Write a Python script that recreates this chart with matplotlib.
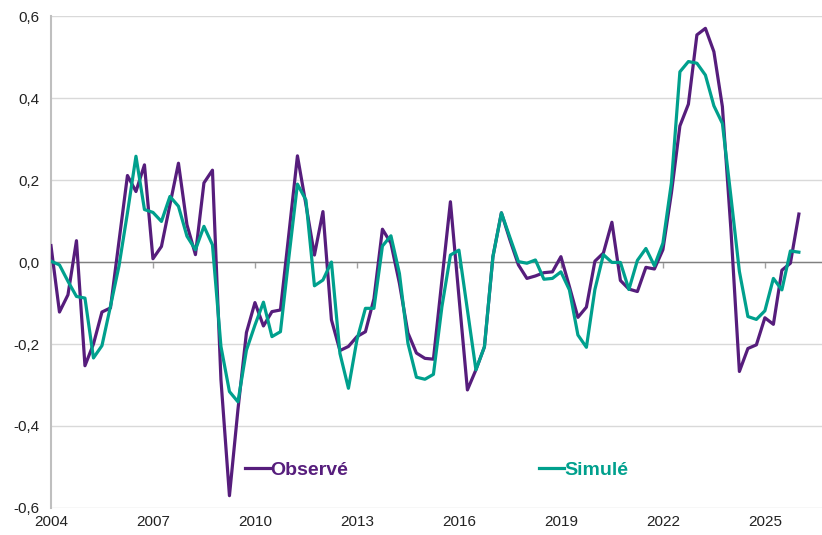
import matplotlib.pyplot as plt
from matplotlib.ticker import FuncFormatter
import numpy as np

plt.rcParams['font.family'] = ['Liberation Sans', 'DejaVu Sans']

# quarterly values from 2004 Q1 to 2026 Q1
observe = [0.040, -0.122, -0.080, 0.052, -0.253, -0.200, -0.122, -0.112,
           0.050, 0.211, 0.172, 0.237, 0.008, 0.038, 0.140, 0.241,
           0.091, 0.018, 0.193, 0.224, -0.287, -0.570, -0.360, -0.172,
           -0.099, -0.156, -0.121, -0.117, 0.070, 0.259, 0.140, 0.017,
           0.123, -0.141, -0.216, -0.206, -0.182, -0.170, -0.090, 0.080,
           0.046, -0.052, -0.173, -0.222, -0.235, -0.237, -0.044, 0.147,
           -0.084, -0.312, -0.263, -0.207, 0.013, 0.120, 0.054, -0.007,
           -0.040, -0.034, -0.026, -0.024, 0.013, -0.060, -0.135, -0.110,
           0.002, 0.022, 0.097, -0.045, -0.066, -0.072, -0.013, -0.017,
           0.030, 0.168, 0.332, 0.385, 0.554, 0.570, 0.513, 0.379,
           0.080, -0.267, -0.211, -0.202, -0.136, -0.152, -0.020, -0.003,
           0.117]
simule = [0.002, -0.007, -0.047, -0.084, -0.088, -0.234, -0.204, -0.108,
          -0.010, 0.120, 0.258, 0.128, 0.121, 0.099, 0.160, 0.136,
          0.063, 0.030, 0.087, 0.042, -0.206, -0.316, -0.341, -0.215,
          -0.154, -0.098, -0.182, -0.170, 0.013, 0.190, 0.151, -0.058,
          -0.044, 0.000, -0.223, -0.308, -0.190, -0.113, -0.113, 0.039,
          0.064, -0.028, -0.198, -0.281, -0.286, -0.274, -0.109, 0.017,
          0.029, -0.117, -0.263, -0.207, 0.013, 0.120, 0.060, 0.001,
          -0.003, 0.005, -0.042, -0.040, -0.024, -0.068, -0.178, -0.208,
          -0.067, 0.018, -0.001, -0.001, -0.067, 0.004, 0.033, -0.009,
          0.046, 0.193, 0.464, 0.489, 0.485, 0.456, 0.381, 0.338,
          0.160, -0.023, -0.133, -0.140, -0.119, -0.040, -0.068, 0.027,
          0.024]
year_ticks = [2004, 2007, 2010, 2013, 2016, 2019, 2022, 2025]
y_ticks = [-0.6, -0.4, -0.2, 0.0, 0.2, 0.4, 0.6]

purple = "#561D7C"
teal = "#00A08D"

dates = 2004 + np.arange(len(observe)) / 4.0

fig = plt.figure(figsize=(8.22, 5.35), dpi=100)
ax = fig.add_axes([0.062, 0.0505, 0.938, 0.9195])

ax.plot(dates, observe, color=purple, linewidth=2.3, label="Observé", zorder=3)
ax.plot(dates, simule, color=teal, linewidth=2.3, label="Simulé", zorder=3)

ax.set_xlim(2004, 2026.68)
ax.set_ylim(-0.6, 0.6)
ax.set_yticks(y_ticks)
ax.yaxis.set_major_formatter(FuncFormatter(lambda v, p: "{:.1f}".format(v).replace(".", ",")))
ax.tick_params(axis='y', length=0, pad=8, labelsize=11, labelcolor="#222222")
ax.yaxis.grid(True, color="#D9D9D9", linewidth=1.0)
ax.set_axisbelow(True)

for side in ["top", "right"]:
    ax.spines[side].set_visible(False)
ax.spines["left"].set_color("#BFBFBF")
ax.spines["left"].set_linewidth(1.5)
ax.spines["left"].set_zorder(1)

# category axis crosses at zero
ax.spines["bottom"].set_position(("data", 0))
ax.spines["bottom"].set_color("#808080")
ax.spines["bottom"].set_linewidth(1.0)
ax.spines["bottom"].set_zorder(1)
ax.set_xticks(year_ticks)
ax.tick_params(axis='x', direction='out', length=4, width=1, color="#A0A0A0", labelbottom=False)

sec = ax.secondary_xaxis("bottom")
sec.set_xticks(year_ticks)
sec.set_xticklabels([str(y) for y in year_ticks])
sec.spines["bottom"].set_visible(False)
sec.tick_params(length=0, pad=5, labelsize=11, labelcolor="#222222")

leg = ax.legend(loc="center", bbox_to_anchor=(0.5, 0.077), ncol=2, frameon=False,
                handlelength=1.3, handletextpad=0.0, columnspacing=9.8,
                prop={"weight": "bold", "size": 14})
for txt, c in zip(leg.get_texts(), [purple, teal]):
    txt.set_color(c)

fig.savefig("out.png", dpi=100)
